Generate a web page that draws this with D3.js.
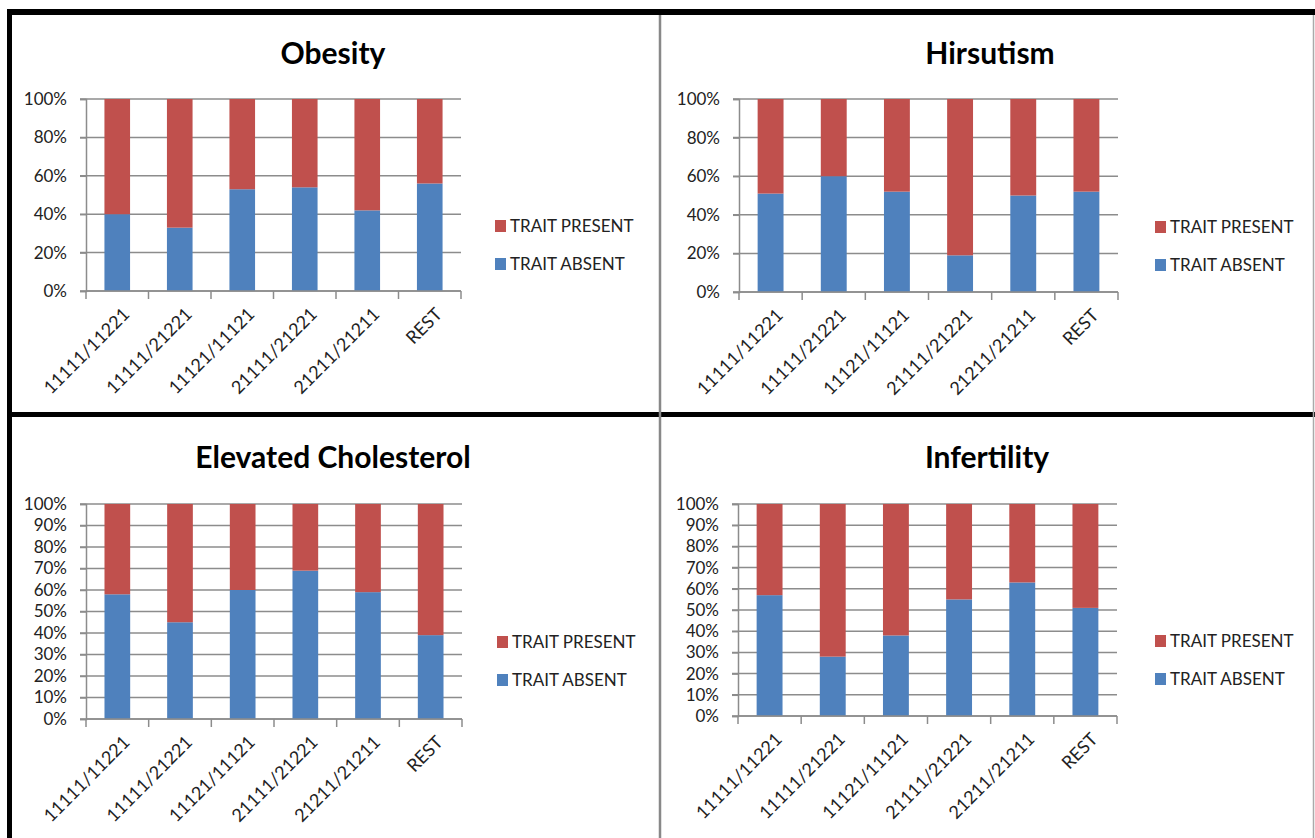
<!DOCTYPE html>
<html>
<head>
<meta charset="utf-8">
<script src="https://cdn.jsdelivr.net/npm/d3@7"></script>
<style>
  body { margin: 0; background: #fff; }
  svg { display: block; font-family: Lato, "Open Sans", sans-serif; }
</style>
</head>
<body>
<div id="chart-area"></div>
<script>
// categories (haplotype pairs) shared by all four charts
var categories = ["11111/11221", "11111/21221", "11121/11121", "21111/21221", "21211/21211", "REST"];
var seriesNames = ["TRAIT ABSENT", "TRAIT PRESENT"];

// percent of patients per group
var obesityAbsent = [40, 33, 53, 54, 42, 56];
var obesityPresent = [60, 67, 47, 46, 58, 44];
var hirsutismAbsent = [51, 60, 52, 19, 50, 52];
var hirsutismPresent = [49, 40, 48, 81, 50, 48];
var cholesterolAbsent = [58, 45, 60, 69, 59, 39];
var cholesterolPresent = [42, 55, 40, 31, 41, 61];
var infertilityAbsent = [57, 28, 38, 55, 63, 51];
var infertilityPresent = [43, 72, 62, 45, 37, 49];

// y tick values
var ticksCoarse = [0, 0.2, 0.4, 0.6, 0.8, 1];
var ticksFine = [0, 0.1, 0.2, 0.3, 0.4, 0.5, 0.6, 0.7, 0.8, 0.9, 1];

var colors = { "TRAIT ABSENT": "#4F81BD", "TRAIT PRESENT": "#C0504D" };

var svg = d3.select("#chart-area").append("svg")
    .attr("width", 1315)
    .attr("height", 838);

svg.append("rect").attr("width", 1315).attr("height", 838).attr("fill", "#fff");

// panel layout
var panels = [
    { title: "Obesity", absent: obesityAbsent, present: obesityPresent, ticks: ticksCoarse,
      x0: 86, x1: 461, y0: 99, y1: 291, tx: 333, ty: 64, lx: 495, ly: 226 },
    { title: "Hirsutism", absent: hirsutismAbsent, present: hirsutismPresent, ticks: ticksCoarse,
      x0: 739, x1: 1118, y0: 99, y1: 292, tx: 990, ty: 64, lx: 1155, ly: 227 },
    { title: "Elevated Cholesterol", absent: cholesterolAbsent, present: cholesterolPresent, ticks: ticksFine,
      x0: 86, x1: 462, y0: 504, y1: 719, tx: 333, ty: 468, lx: 497, ly: 642 },
    { title: "Infertility", absent: infertilityAbsent, present: infertilityPresent, ticks: ticksFine,
      x0: 738, x1: 1117, y0: 504, y1: 716, tx: 987, ty: 468, lx: 1155, ly: 641 }
];

var gridColor = "#8c8c8c";

panels.forEach(function (p) {
    var g = svg.append("g");

    var rows = categories.map(function (c, i) {
        return { cat: c, "TRAIT ABSENT": p.absent[i], "TRAIT PRESENT": p.present[i] };
    });
    var stacked = d3.stack().keys(seriesNames).offset(d3.stackOffsetExpand)(rows);

    var x = d3.scaleBand()
        .domain(categories)
        .range([p.x0, p.x1])
        .paddingInner(0.59)
        .paddingOuter(0.295);

    var y = d3.scaleLinear()
        .domain([0, 1])
        .range([p.y1, p.y0]);

    // title
    g.append("text")
        .attr("x", p.tx)
        .attr("y", p.ty)
        .attr("text-anchor", "middle")
        .attr("font-size", "30px")
        .attr("font-weight", "bold")
        .attr("fill", "#000")
        .text(p.title);

    // gridlines
    g.selectAll(".grid")
        .data(p.ticks)
        .enter()
        .append("line")
        .attr("x1", p.x0 - 6)
        .attr("x2", p.x1)
        .attr("y1", d => y(d))
        .attr("y2", d => y(d))
        .attr("stroke", gridColor)
        .attr("stroke-width", 1.5);

    // y axis
    var yAxis = g.append("g")
        .attr("transform", "translate(" + p.x0 + ",0)")
        .call(d3.axisLeft(y).tickValues(p.ticks).tickFormat(d3.format(".0%")).tickSize(6).tickPadding(13));
    yAxis.select(".domain").attr("stroke", gridColor).attr("stroke-width", 1.5);
    yAxis.selectAll(".tick line").attr("stroke", gridColor).attr("stroke-width", 1.5);
    yAxis.selectAll(".tick text")
        .attr("font-family", "Lato, sans-serif")
        .attr("font-size", "17px")
        .attr("fill", "#222");

    // bars
    g.selectAll(".layer")
        .data(stacked)
        .enter()
        .append("g")
        .attr("fill", d => colors[d.key])
        .selectAll("rect")
        .data(d => d)
        .enter()
        .append("rect")
        .attr("x", d => x(d.data.cat))
        .attr("y", d => y(d[1]))
        .attr("width", x.bandwidth())
        .attr("height", d => y(d[0]) - y(d[1]));

    // x axis line with ticks at category boundaries
    g.append("line")
        .attr("x1", p.x0).attr("x2", p.x1)
        .attr("y1", p.y1).attr("y2", p.y1)
        .attr("stroke", gridColor).attr("stroke-width", 1.5);
    var bounds = categories.map(c => x(c) + x.bandwidth() / 2 - x.step() / 2);
    bounds.push(p.x1);
    g.selectAll(".xtick")
        .data(bounds)
        .enter()
        .append("line")
        .attr("x1", d => d).attr("x2", d => d)
        .attr("y1", p.y1).attr("y2", p.y1 + 8)
        .attr("stroke", gridColor).attr("stroke-width", 1.5);

    // rotated category labels
    g.selectAll(".xlabel")
        .data(categories)
        .enter()
        .append("text")
        .attr("transform", d => "translate(" + (x(d) + x.bandwidth() / 2 + 9) + "," + (p.y1 + 20) + ") rotate(-45)")
        .attr("text-anchor", "end")
        .attr("dy", "0.35em")
        .attr("font-size", "18px")
        .attr("fill", "#222")
        .text(d => d);

    // legend
    var legend = g.selectAll(".legend")
        .data(["TRAIT PRESENT", "TRAIT ABSENT"])
        .enter()
        .append("g")
        .attr("transform", (d, i) => "translate(" + p.lx + "," + (p.ly + i * 38) + ")");
    legend.append("rect")
        .attr("x", 0).attr("y", -6)
        .attr("width", 11).attr("height", 12)
        .attr("fill", d => colors[d]);
    legend.append("text")
        .attr("x", 15)
        .attr("dy", "0.36em")
        .attr("font-size", "17px")
        .attr("fill", "#222")
        .text(d => d);
});

// frame lines between the charts
svg.append("line").attr("x1", 7).attr("x2", 1315).attr("y1", 12).attr("y2", 12)
    .attr("stroke", "#000").attr("stroke-width", 6);
svg.append("line").attr("x1", 9.5).attr("x2", 9.5).attr("y1", 9).attr("y2", 838)
    .attr("stroke", "#000").attr("stroke-width", 5);
svg.append("line").attr("x1", 7).attr("x2", 1315).attr("y1", 414.5).attr("y2", 414.5)
    .attr("stroke", "#000").attr("stroke-width", 5);
svg.append("line").attr("x1", 660).attr("x2", 660).attr("y1", 15).attr("y2", 838)
    .attr("stroke", "#888").attr("stroke-width", 2.5);
svg.append("line").attr("x1", 1313.5).attr("x2", 1313.5).attr("y1", 15).attr("y2", 838)
    .attr("stroke", "#aaa").attr("stroke-width", 1.5);
</script>
</body>
</html>
